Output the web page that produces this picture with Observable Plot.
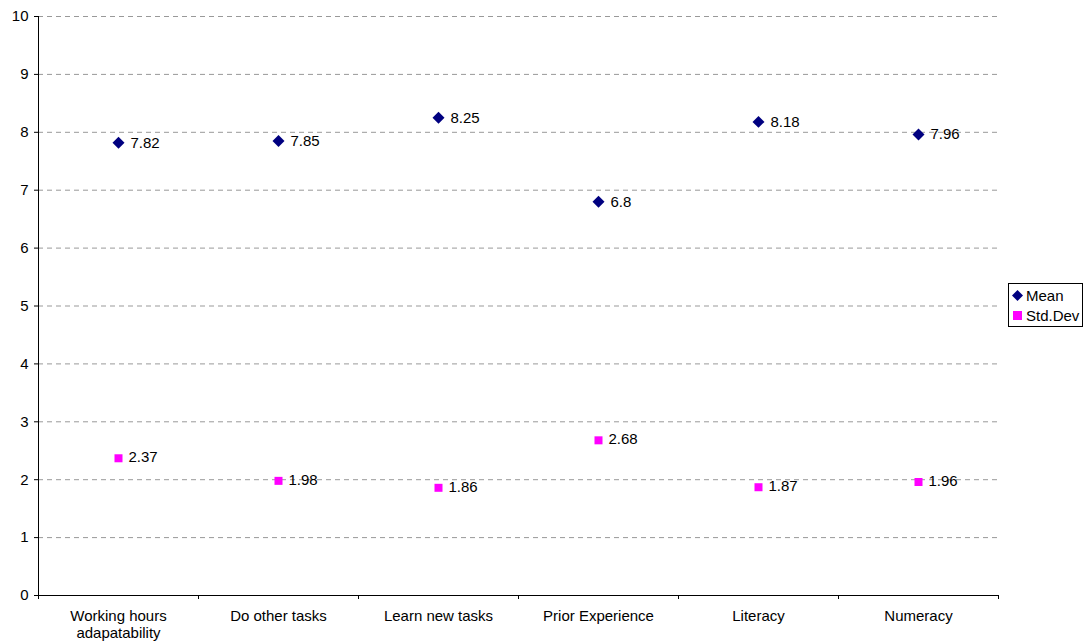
<!DOCTYPE html>
<html>
<head>
<meta charset="utf-8">
<script src="https://cdn.jsdelivr.net/npm/d3@7"></script>
<script src="https://cdn.jsdelivr.net/npm/@observablehq/plot@0.6"></script>
<style>
  body { margin: 0; background: #fff; font-family: "Liberation Sans", Arial, sans-serif; }
  #wrap { position: relative; width: 1083px; height: 642px; }
  #legend { position: absolute; left: 1008px; top: 283px; width: 73px; height: 42px; border: 1px solid #000; background: #fff; font-size: 15px; color: #000; }
  #legend .row { position: absolute; left: 3px; display: flex; align-items: center; line-height: 17px; }
  #legend svg { margin-right: 3px; }
</style>
</head>
<body>
<div id="wrap">
  <div id="chart"></div>
  <div id="legend">
    <div class="row" style="top:3px"><svg width="11" height="11"><path d="M5.5,0L11,5.5L5.5,11L0,5.5Z" fill="#000080"/></svg>Mean</div>
    <div class="row" style="top:23px"><svg width="11" height="11"><rect x="1" y="1" width="9" height="9" fill="#FF00FF"/></svg>Std.Dev</div>
  </div>
</div>
<script>
const categories = ["Working hours\nadapatability", "Do other tasks", "Learn new tasks", "Prior Experience", "Literacy", "Numeracy"];
const meanValues = [7.82, 7.85, 8.25, 6.8, 8.18, 7.96];
const sdValues = [2.37, 1.98, 1.86, 2.68, 1.87, 1.96];
const yTicks = [0, 1, 2, 3, 4, 5, 6, 7, 8, 9, 10];

const meanData = categories.map((c, i) => ({i: i + 0.5, v: meanValues[i]}));
const sdData = categories.map((c, i) => ({i: i + 0.5, v: sdValues[i]}));
const catData = categories.map((c, i) => ({i: i + 0.5, label: c}));

const chart = Plot.plot({
  width: 1083,
  height: 642,
  marginLeft: 38,
  marginRight: 85,
  marginTop: 16,
  marginBottom: 47,
  style: {fontFamily: "Liberation Sans, Arial, sans-serif", fontSize: "15px", color: "#000", background: "#fff"},
  x: {type: "linear", domain: [0, categories.length]},
  y: {domain: [0, 10]},
  marks: [
    Plot.ruleY(yTicks.filter(d => d > 0), {stroke: "#999", strokeDasharray: "5,4", strokeWidth: 1}),
    Plot.axisY({ticks: yTicks, tickSize: 4, tickPadding: 6, fontSize: 15, label: null, stroke: "#000", strokeOpacity: 1}),
    Plot.axisX({ticks: d3.range(0, categories.length + 1), tickSize: 4, tickFormat: () => "", label: null, stroke: "#000", strokeOpacity: 1}),
    Plot.ruleX([0], {stroke: "#000"}),
    Plot.ruleY([0], {stroke: "#000"}),
    Plot.text(catData, {x: "i", y: () => 0, text: "label", dy: 13, lineAnchor: "top", fontSize: 15, lineHeight: 1.15, fill: "#000"}),
    Plot.dot(meanData, {x: "i", y: "v", symbol: "diamond2", r: 5.4, fill: "#000080", stroke: "none"}),
    Plot.dot(sdData, {x: "i", y: "v", symbol: "square2", r: 5.1, fill: "#FF00FF", stroke: "none"}),
    Plot.text(meanData, {x: "i", y: "v", text: d => String(d.v), dx: 12, textAnchor: "start", fontSize: 15, fill: "#000"}),
    Plot.text(sdData, {x: "i", y: "v", text: d => String(d.v), dx: 10, dy: -1, textAnchor: "start", fontSize: 15, fill: "#000"})
  ]
});
document.getElementById("chart").appendChild(chart);
</script>
</body>
</html>
